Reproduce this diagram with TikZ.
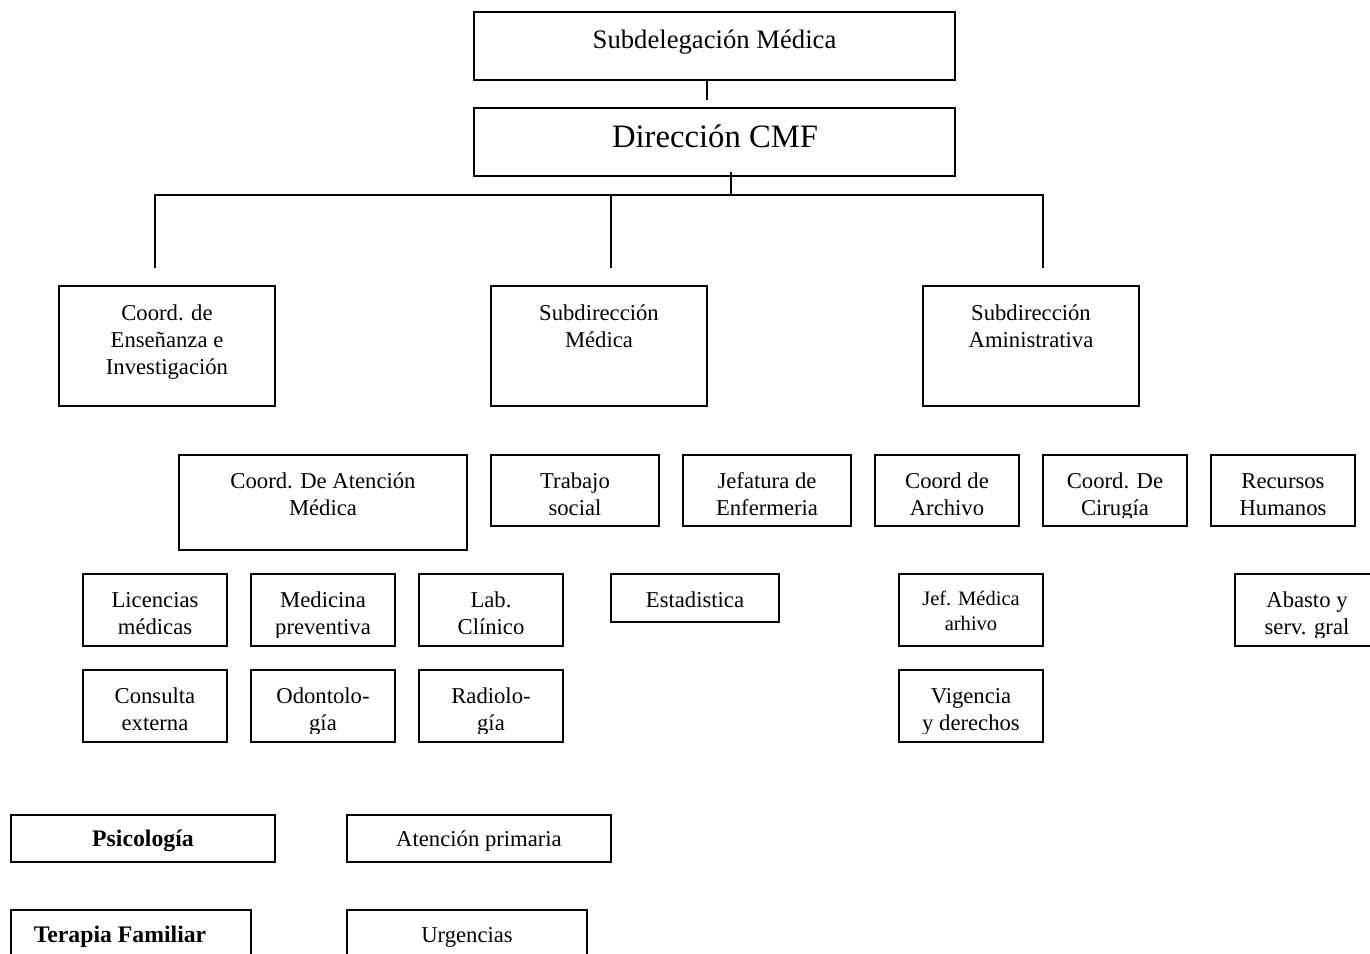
\documentclass[tikz,border=0pt]{standalone}
\usepackage{fontspec}
\setmainfont{Liberation Serif}
\usetikzlibrary{fit}

\tikzset{
  orgbox/.style={draw=black, line width=1.4pt, inner sep=0pt, rectangle},
  conn/.style={draw=black, line width=1.4pt},
  unittext/.style={anchor=base, align=center, inner sep=0pt, text=black,
    font=\fontsize{17}{20.25}\selectfont},
  bigtext/.style={font=\fontsize{20}{24}\selectfont},
  hugetext/.style={font=\fontsize{24.5}{29}\selectfont},
  smalltext/.style={font=\fontsize{15.4}{18.75}\selectfont},
  boldtext/.style={font=\fontsize{17.8}{21}\selectfont\bfseries},
}

% \orgunit[text style]{name}{x1}{y1}{x2}{y2}{text x}{last baseline}{text}
% The label is clipped a little above the lower edge, like a fixed text frame.
\newcommand\orgunit[9][]{%
  \node[orgbox, fit={(#3,#4) (#5,#6)}] (#2) {};
  \begin{scope}
    \clip (#3,#4) rectangle (#5,#6-9);
    \node[unittext,#1] (#2-text) at (#7,#8) {#9};
  \end{scope}%
}

\begin{document}
\begin{tikzpicture}[x=0.75pt, y=-0.75pt]
\useasboundingbox (0,0) rectangle (1370,953);

% top of the chart
\orgunit[bigtext]{sub}{474}{12}{955}{80}{714.5}{48}{Subdelegación Médica}
\orgunit[hugetext]{dir}{474}{108}{955}{176}{715}{147}{Dirección CMF}

% second level
\orgunit{ens}{59}{286}{275}{406}{167}{374}{Coord. de\\Enseñanza e\\Investigación}
\orgunit{smed}{491}{286}{707}{406}{599}{347}{Subdirección\\Médica}
\orgunit{sadm}{923}{286}{1139}{406}{1031}{347}{Subdirección\\Aministrativa}

% third level
\orgunit{cam}{179}{455}{467}{550}{323}{515}{Coord. De Atención\\Médica}
\orgunit{ts}{491}{455}{659}{526}{575}{515}{Trabajo\\social}
\orgunit{jenf}{683}{455}{851}{526}{767}{515}{Jefatura de\\Enfermeria}
\orgunit{arch}{875}{455}{1019}{526}{947}{515}{Coord de\\Archivo}
\orgunit{cir}{1043}{455}{1187}{526}{1115}{515}{Coord. De\\Cirugía}
\orgunit{rh}{1211}{455}{1355}{526}{1283}{515}{Recursos\\Humanos}

% services
\orgunit{lic}{83}{574}{227}{646}{155}{634}{Licencias\\médicas}
\orgunit{medp}{251}{574}{395}{646}{323}{634}{Medicina\\preventiva}
\orgunit{lab}{419}{574}{563}{646}{491}{634}{Lab.\\Clínico}
\orgunit{est}{611}{574}{779}{622}{695}{607}{Estadistica}
\orgunit[smalltext]{jma}{899}{574}{1043}{646}{971}{630}{Jef. Médica\\arhivo}
\orgunit{aba}{1235}{574}{1379}{646}{1307}{634}{Abasto y\\serv. gral}
\orgunit{cext}{83}{670}{227}{742}{155}{730}{Consulta\\externa}
\orgunit{odo}{251}{670}{395}{742}{323}{730}{Odontolo-\\gía}
\orgunit{rad}{419}{670}{563}{742}{491}{730}{Radiolo-\\gía}
\orgunit{vig}{899}{670}{1043}{742}{971}{730}{Vigencia\\y derechos}

% lower units
\orgunit[boldtext]{psi}{11}{815}{275}{862}{143}{846}{Psicología}
\orgunit{aprim}{347}{815}{611}{862}{479}{846}{Atención primaria}
\orgunit[boldtext]{ter}{11}{910}{251}{966}{120}{942}{Terapia Familiar}
\orgunit{urg}{347}{910}{587}{966}{467}{942}{Urgencias}

% connectors
\coordinate (subStem) at (707,100);
\draw[conn] (sub.south -| subStem) -- (subStem);

\coordinate (dirTop) at (731,172);
\coordinate (busC) at (731,195);
\coordinate (busL) at (155,195);
\coordinate (busM) at (611,195);
\coordinate (busR) at (1043,195);
\coordinate (dropL) at (155,268);
\coordinate (dropM) at (611,268);
\coordinate (dropR) at (1043,268);
\draw[conn] (dirTop) -- (busC);
\draw[conn] (dropL) -- (busL) -- (busR) -- (dropR);
\draw[conn] (busM) -- (dropM);
\end{tikzpicture}
\end{document}
